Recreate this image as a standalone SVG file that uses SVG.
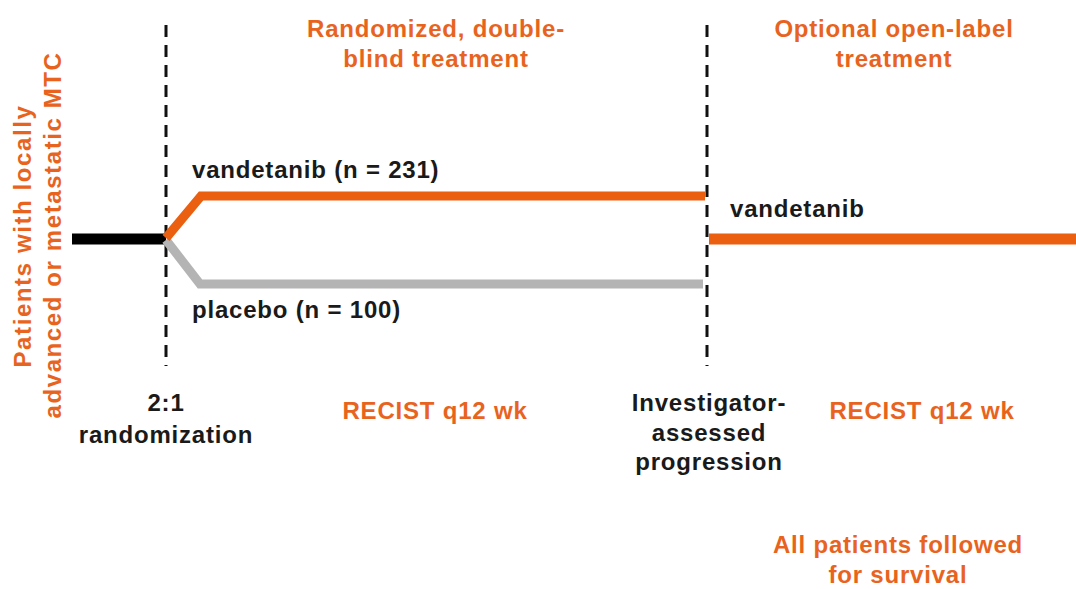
<svg xmlns="http://www.w3.org/2000/svg" width="1076" height="589" viewBox="0 0 1076 589">
  <style>
    .t { font-family: "Liberation Sans", Arial, sans-serif; font-weight: bold; font-size: 24px; letter-spacing: 0.8px; }
    .v { letter-spacing: 1.6px; }
    .or { fill: #E8641E; }
    .bk { fill: #1a1a1a; }
    .mid { text-anchor: middle; }
    .dash { stroke: #111; stroke-width: 3; stroke-dasharray: 12 8; fill: none; }
    .arm { fill: none; stroke-linejoin: miter; stroke-linecap: butt; }
  </style>
  <rect width="1076" height="589" fill="#fff"/>

  <!-- population label, read bottom to top -->
  <g id="population">
    <text class="t v or mid" transform="translate(31,236) rotate(-90)">Patients with locally</text>
    <text class="t v or mid" transform="translate(61,235) rotate(-90)">advanced or metastatic MTC</text>
  </g>

  <!-- phase boundaries -->
  <g id="boundaries">
    <line class="dash" x1="166" y1="25" x2="166" y2="366"/>
    <line class="dash" x1="707" y1="25" x2="707" y2="366"/>
  </g>

  <!-- treatment arms -->
  <g id="connectors">
    <line class="arm" x1="72" y1="239" x2="166" y2="239" stroke="#000" stroke-width="11"/>
    <polyline class="arm" points="166,240 200,284 703,284" stroke="#B4B4B4" stroke-width="9"/>
    <polyline class="arm" points="166,238 201,196 705,196" stroke="#EA5F10" stroke-width="9"/>
    <line class="arm" x1="709" y1="239" x2="1076" y2="239" stroke="#EA5F10" stroke-width="11"/>
  </g>

  <g id="phase-double-blind">
    <text class="t or mid" x="436" y="37">Randomized, double-</text>
    <text class="t or mid" x="436" y="67">blind treatment</text>
  </g>
  <g id="phase-open-label">
    <text class="t or mid" x="894" y="37">Optional open-label</text>
    <text class="t or mid" x="894" y="67">treatment</text>
  </g>

  <g id="arm-vandetanib">
    <text class="t bk" x="192" y="178">vandetanib (n = 231)</text>
  </g>
  <g id="arm-placebo">
    <text class="t bk" x="192" y="318">placebo (n = 100)</text>
  </g>
  <g id="arm-open-label">
    <text class="t bk" x="730" y="217">vandetanib</text>
  </g>

  <g id="randomization">
    <text class="t bk mid" x="166" y="411">2:1</text>
    <text class="t bk mid" x="166" y="443">randomization</text>
  </g>
  <g id="recist-blind">
    <text class="t or mid" x="435" y="419">RECIST q12 wk</text>
  </g>
  <g id="progression">
    <text class="t bk mid" x="709" y="411">Investigator-</text>
    <text class="t bk mid" x="709" y="441">assessed</text>
    <text class="t bk mid" x="709" y="470">progression</text>
  </g>
  <g id="recist-open">
    <text class="t or mid" x="922" y="419">RECIST q12 wk</text>
  </g>
  <g id="survival">
    <text class="t or mid" x="898" y="553">All patients followed</text>
    <text class="t or mid" x="898" y="583">for survival</text>
  </g>
</svg>
